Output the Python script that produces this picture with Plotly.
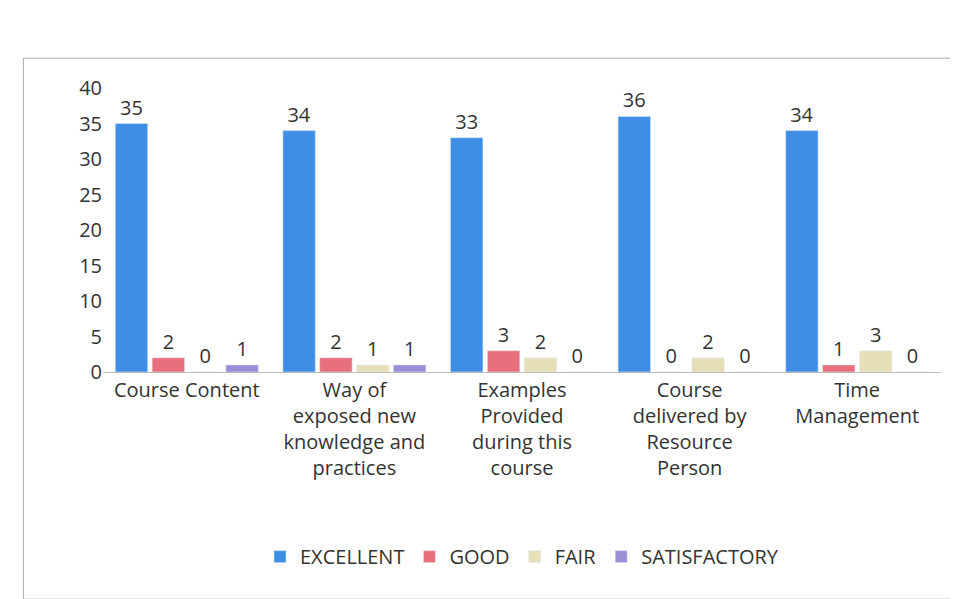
import plotly.graph_objects as go

categories = ["Course Content", "Way of<br>exposed new<br>knowledge and<br>practices",
              "Examples<br>Provided<br>during this<br>course", "Course<br>delivered by<br>Resource<br>Person",
              "Time<br>Management"]
excellent = [35, 34, 33, 36, 34]
good = [2, 2, 3, 0, 1]
fair = [0, 1, 2, 2, 3]
satisfactory = [1, 1, 0, 0, 0]

series = [("EXCELLENT", excellent, "#3f8ee6"),
          ("GOOD", good, "#e8707c"),
          ("FAIR", fair, "#e6dfb8"),
          ("SATISFACTORY", satisfactory, "#9a8fd6")]

fig = go.Figure()
for name, vals, col in series:
    fig.add_trace(go.Bar(x=categories, y=vals, name=name, marker_color=col,
                         text=vals, textposition="outside", cliponaxis=False,
                         textfont=dict(size=20, color="#333")))

fig.update_layout(
    width=958, height=599, barmode="group", bargap=0.12, bargroupgap=0.12,
    paper_bgcolor="white", plot_bgcolor="white",
    font=dict(family="Open Sans, Liberation Sans, sans-serif", size=20, color="#333"),
    margin=dict(l=95, r=25, t=80, b=235),
    yaxis=dict(range=[0, 40], dtick=5, showgrid=False, zeroline=False, showline=False,
               ticks="", tickfont=dict(size=20)),
    xaxis=dict(showline=True, linecolor="#bbb", ticks="", tickfont=dict(size=20)),
    legend=dict(orientation="h", x=0.5, xanchor="center", y=-0.65, yanchor="middle",
                font=dict(size=20), itemwidth=30),
    shapes=[dict(type="rect", xref="paper", yref="paper", x0=-0.095, x1=1.015, y0=-0.8, y1=1.105,
                 line=dict(color="#aaa", width=1))],
)
fig.write_html("out.html")
